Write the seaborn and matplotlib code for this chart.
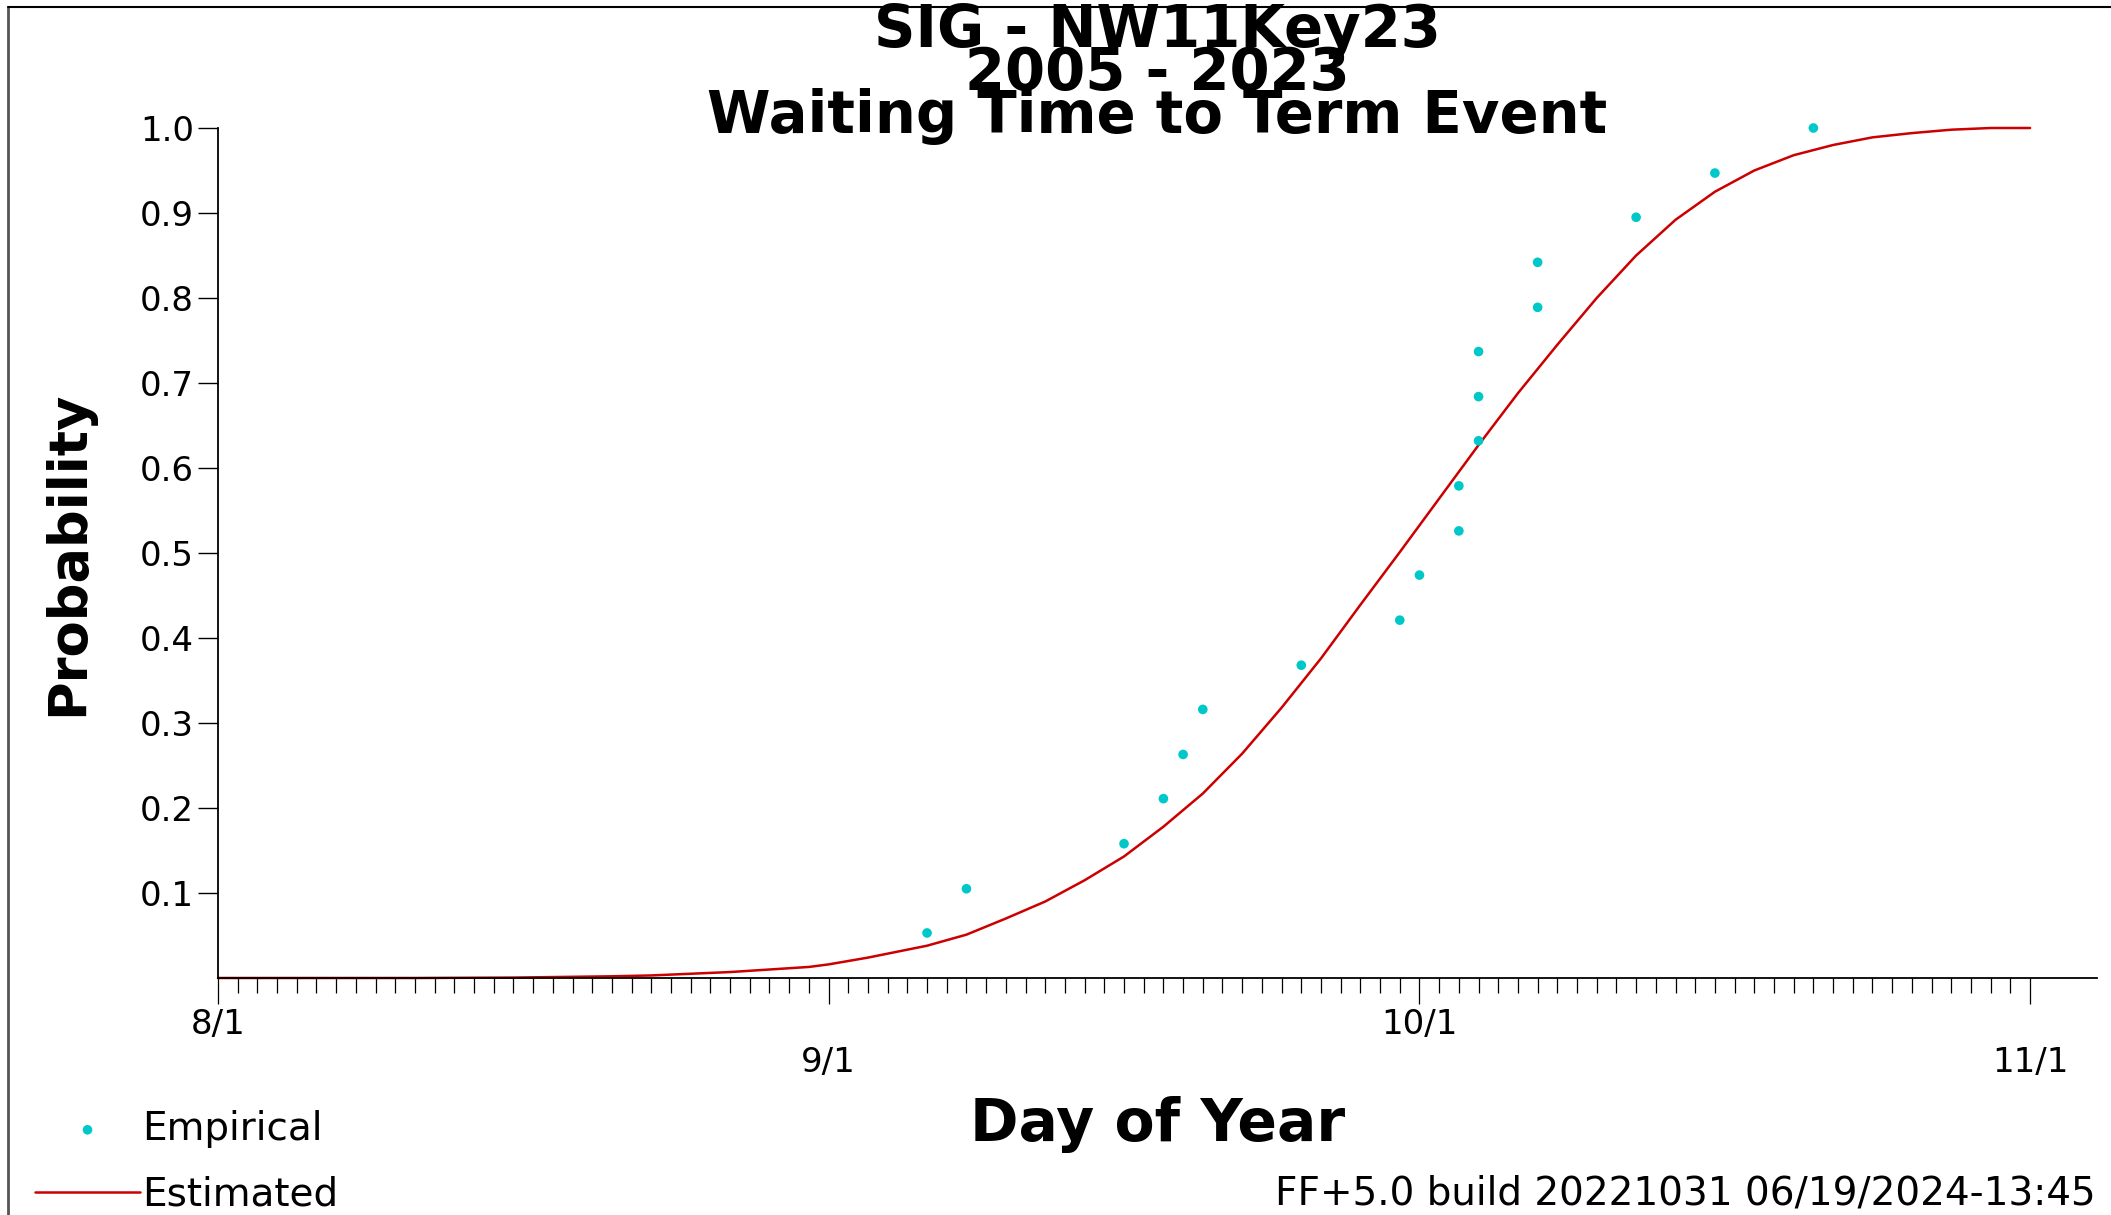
import matplotlib
matplotlib.use("Agg")
import matplotlib.pyplot as plt
import seaborn as sns
from matplotlib.lines import Line2D

# Empirical waiting times (day of year, 8/1 = 213) and cumulative probability
emp_day = [249, 251, 259, 261, 262, 263, 268, 273, 274, 276,
           276, 277, 277, 277, 280, 280, 285, 289, 294]
emp_prob = [0.053, 0.105, 0.158, 0.211, 0.263, 0.316, 0.368, 0.421, 0.474, 0.526,
            0.579, 0.632, 0.684, 0.737, 0.789, 0.842, 0.895, 0.947, 1.0]

# Estimated curve
est_day = [213, 218, 223, 228, 233, 235, 237, 239, 241, 243, 244, 246, 249, 251,
           253, 255, 257, 259, 261, 263, 265, 267, 269, 271, 273, 275, 277, 279,
           281, 283, 285, 287, 289, 291, 293, 295, 297, 299, 301, 303, 305]
est_prob = [0.0, 0.0, 0.0, 0.0005, 0.002, 0.003, 0.005, 0.007, 0.010, 0.013, 0.016,
            0.024, 0.038, 0.051, 0.070, 0.090, 0.115, 0.143, 0.178, 0.217, 0.264,
            0.318, 0.376, 0.439, 0.501, 0.564, 0.627, 0.688, 0.745, 0.800, 0.850,
            0.892, 0.925, 0.950, 0.968, 0.980, 0.989, 0.994, 0.998, 1.0, 1.0]

# Axis ticks
month_days = [213, 244, 274, 305]
month_labels = ["8/1", "\n9/1", "10/1", "\n11/1"]
prob_ticks = [0.1, 0.2, 0.3, 0.4, 0.5, 0.6, 0.7, 0.8, 0.9, 1.0]

title_lines = ["SIG - NW11Key23", "2005 - 2023", "Waiting Time to Term Event"]
footer = "FF+5.0 build 20221031 06/19/2024-13:45"

RED = "#CC0000"
CYAN = "#00C8C8"

sns.set_style("ticks")
plt.rcParams['font.family'] = ['DejaVu Sans']
plt.rcParams['text.color'] = 'black'
plt.rcParams['axes.labelcolor'] = 'black'
plt.rcParams['xtick.color'] = 'black'
plt.rcParams['ytick.color'] = 'black'

W, H = 2111, 1215
fig = plt.figure(figsize=(W / 100, H / 100), dpi=100)
ax = fig.add_axes([218 / W, 1 - 978 / H, (2097 - 218) / W, (978 - 128) / H])

# Curve and points
sns.lineplot(x=est_day, y=est_prob, color=RED, linewidth=1.8, ax=ax,
             label="Estimated", clip_on=False, zorder=2)
sns.scatterplot(x=emp_day, y=emp_prob, color=CYAN, s=48, edgecolor="none",
                ax=ax, label="Empirical", clip_on=False, zorder=3)

ax.set_xlim(213, 308.4)
ax.set_ylim(0, 1)

ax.set_xticks(month_days)
ax.set_xticklabels(month_labels)
ax.set_xticks(range(213, 306), minor=True)
ax.set_yticks(prob_ticks)
ax.set_yticklabels([f"{v:.1f}" for v in prob_ticks])

ax.tick_params(axis='x', which='major', length=18.7, width=0.9, labelsize=24.5,
               pad=3, color='black', labelcolor='black')
ax.tick_params(axis='x', which='minor', length=10.8, width=0.9, color='black')
ax.tick_params(axis='y', which='major', length=14.4, width=1.0, labelsize=24.5,
               pad=3, color='black', labelcolor='black')

for side in ['top', 'right']:
    ax.spines[side].set_visible(False)
for side in ['left', 'bottom']:
    ax.spines[side].set_linewidth(1.3)
    ax.spines[side].set_color('black')

# Axis labels
ax.set_xlabel("Day of Year", fontsize=42, fontweight='bold', color='black')
ax.xaxis.set_label_coords(0.5, -0.139)
ax.set_ylabel("Probability", fontsize=38, fontweight='bold', color='black')
ax.yaxis.set_label_coords(-0.066, 0.5)

# Title, three tightly stacked lines
for line, base in zip(title_lines, [47, 90, 133]):
    fig.text(1157.5 / W, 1 - base / H, line, ha='center', va='baseline',
             fontsize=41.5, fontweight='bold', color='black')

# Legend in the lower-left corner
handles, labels = ax.get_legend_handles_labels()
order = [labels.index("Empirical"), labels.index("Estimated")]
leg = ax.legend([handles[i] for i in order], [labels[i] for i in order],
                loc='upper left', bbox_to_anchor=(35 / W, 1 - 1110 / H),
                bbox_transform=fig.transFigure, frameon=False, fontsize=28,
                handlelength=2.7, handletextpad=0.05, labelspacing=0.72,
                borderpad=0, borderaxespad=0, scatterpoints=1)
for t in leg.get_texts():
    t.set_color('black')

# Footer stamp
fig.text(2096 / W, 1 - 1205 / H, footer, ha='right', va='baseline', fontsize=28,
         color='black')

# Window frame lines (top and left)
fig.add_artist(Line2D([8 / W, 8 / W], [0, 1 - 7 / H], transform=fig.transFigure,
                      color='#555555', lw=2))
fig.add_artist(Line2D([8 / W, 1], [1 - 7 / H, 1 - 7 / H], transform=fig.transFigure,
                      color='black', lw=1.5))

fig.savefig("out.png", dpi=100)
